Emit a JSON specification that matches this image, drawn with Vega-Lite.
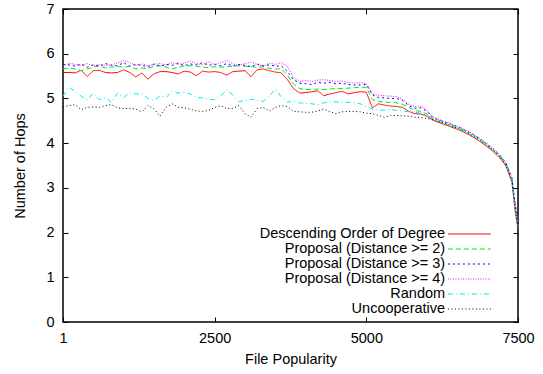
{
  "$schema": "https://vega.github.io/schema/vega-lite/v6.json",
  "width": 455,
  "height": 313,
  "autosize": {"type": "none"},
  "padding": {"left": 63, "top": 9, "right": 25, "bottom": 52},
  "config": {
    "font": "Liberation Sans",
    "view": {"stroke": "#000", "strokeWidth": 1.5},
    "axis": {
      "labelFont": "Liberation Sans",
      "labelFontSize": 14.5,
      "labelColor": "#000",
      "labelFlush": false,
      "labelOverlap": false,
      "titleFont": "Liberation Sans",
      "titleFontSize": 14.5,
      "titleFontWeight": "normal",
      "titleColor": "#000",
      "grid": false,
      "domain": false,
      "tickColor": "#000",
      "tickSize": -5,
      "tickWidth": 1,
      "format": "d"
    },
    "legend": {
      "orient": "none",
      "legendX": 374,
      "legendY": 217,
      "labelFont": "Liberation Sans",
      "labelFontSize": 14.5,
      "labelColor": "#000",
      "labelAlign": "right",
      "labelOffset": -32.3,
      "labelLimit": 400,
      "symbolOffset": 24.4,
      "symbolType": "M-3,0H3",
      "symbolSize": 205,
      "symbolStrokeWidth": 1,
      "rowPadding": 0
    }
  },
  "data": {
    "values": [
      {"x": 1, "d": 5.58, "p2": 5.66, "p3": 5.76, "p4": 5.72, "r": 5.05, "u": 4.81},
      {"x": 100, "d": 5.58, "p2": 5.68, "p3": 5.75, "p4": 5.79, "r": 5.25, "u": 4.84},
      {"x": 200, "d": 5.57, "p2": 5.66, "p3": 5.72, "p4": 5.76, "r": 5.16, "u": 4.86},
      {"x": 300, "d": 5.63, "p2": 5.62, "p3": 5.77, "p4": 5.74, "r": 5.05, "u": 4.75},
      {"x": 400, "d": 5.49, "p2": 5.66, "p3": 5.70, "p4": 5.78, "r": 4.97, "u": 4.80},
      {"x": 500, "d": 5.62, "p2": 5.70, "p3": 5.75, "p4": 5.73, "r": 5.12, "u": 4.81},
      {"x": 600, "d": 5.63, "p2": 5.73, "p3": 5.72, "p4": 5.76, "r": 4.97, "u": 4.80},
      {"x": 700, "d": 5.58, "p2": 5.68, "p3": 5.78, "p4": 5.74, "r": 5.02, "u": 4.84},
      {"x": 800, "d": 5.57, "p2": 5.70, "p3": 5.74, "p4": 5.75, "r": 4.91, "u": 4.86},
      {"x": 900, "d": 5.58, "p2": 5.72, "p3": 5.73, "p4": 5.79, "r": 5.12, "u": 4.79},
      {"x": 1000, "d": 5.64, "p2": 5.70, "p3": 5.80, "p4": 5.85, "r": 5.02, "u": 4.77},
      {"x": 1100, "d": 5.58, "p2": 5.72, "p3": 5.72, "p4": 5.80, "r": 5.13, "u": 4.78},
      {"x": 1200, "d": 5.48, "p2": 5.66, "p3": 5.76, "p4": 5.74, "r": 5.10, "u": 4.76},
      {"x": 1300, "d": 5.57, "p2": 5.68, "p3": 5.74, "p4": 5.77, "r": 5.11, "u": 4.70},
      {"x": 1400, "d": 5.43, "p2": 5.67, "p3": 5.71, "p4": 5.73, "r": 5.00, "u": 4.84},
      {"x": 1500, "d": 5.55, "p2": 5.72, "p3": 5.77, "p4": 5.76, "r": 4.96, "u": 4.77},
      {"x": 1600, "d": 5.60, "p2": 5.73, "p3": 5.72, "p4": 5.78, "r": 5.05, "u": 4.60},
      {"x": 1700, "d": 5.60, "p2": 5.70, "p3": 5.76, "p4": 5.75, "r": 5.02, "u": 4.80},
      {"x": 1800, "d": 5.58, "p2": 5.66, "p3": 5.74, "p4": 5.80, "r": 5.16, "u": 4.88},
      {"x": 1900, "d": 5.55, "p2": 5.70, "p3": 5.79, "p4": 5.76, "r": 5.12, "u": 4.80},
      {"x": 2000, "d": 5.61, "p2": 5.73, "p3": 5.73, "p4": 5.79, "r": 5.14, "u": 4.79},
      {"x": 2100, "d": 5.59, "p2": 5.73, "p3": 5.77, "p4": 5.84, "r": 5.10, "u": 4.76},
      {"x": 2200, "d": 5.51, "p2": 5.72, "p3": 5.75, "p4": 5.78, "r": 5.03, "u": 4.72},
      {"x": 2300, "d": 5.61, "p2": 5.70, "p3": 5.80, "p4": 5.75, "r": 5.01, "u": 4.71},
      {"x": 2400, "d": 5.59, "p2": 5.69, "p3": 5.74, "p4": 5.82, "r": 4.98, "u": 4.73},
      {"x": 2500, "d": 5.60, "p2": 5.71, "p3": 5.76, "p4": 5.76, "r": 4.97, "u": 4.80},
      {"x": 2600, "d": 5.58, "p2": 5.70, "p3": 5.73, "p4": 5.80, "r": 5.05, "u": 4.84},
      {"x": 2700, "d": 5.52, "p2": 5.71, "p3": 5.78, "p4": 5.85, "r": 5.19, "u": 4.77},
      {"x": 2800, "d": 5.60, "p2": 5.72, "p3": 5.72, "p4": 5.77, "r": 5.08, "u": 4.78},
      {"x": 2900, "d": 5.61, "p2": 5.73, "p3": 5.76, "p4": 5.74, "r": 4.93, "u": 4.84},
      {"x": 3000, "d": 5.62, "p2": 5.72, "p3": 5.74, "p4": 5.78, "r": 4.95, "u": 4.66},
      {"x": 3100, "d": 5.49, "p2": 5.71, "p3": 5.71, "p4": 5.81, "r": 4.98, "u": 4.58},
      {"x": 3200, "d": 5.64, "p2": 5.70, "p3": 5.77, "p4": 5.76, "r": 4.96, "u": 4.77},
      {"x": 3300, "d": 5.66, "p2": 5.71, "p3": 5.73, "p4": 5.72, "r": 4.93, "u": 4.80},
      {"x": 3400, "d": 5.62, "p2": 5.67, "p3": 5.75, "p4": 5.79, "r": 5.05, "u": 4.72},
      {"x": 3500, "d": 5.59, "p2": 5.66, "p3": 5.72, "p4": 5.76, "r": 5.21, "u": 4.80},
      {"x": 3600, "d": 5.57, "p2": 5.66, "p3": 5.73, "p4": 5.80, "r": 5.03, "u": 4.84},
      {"x": 3700, "d": 5.42, "p2": 5.52, "p3": 5.60, "p4": 5.72, "r": 4.92, "u": 4.82},
      {"x": 3800, "d": 5.22, "p2": 5.32, "p3": 5.42, "p4": 5.46, "r": 4.93, "u": 4.71},
      {"x": 3900, "d": 5.12, "p2": 5.22, "p3": 5.34, "p4": 5.38, "r": 4.90, "u": 4.70},
      {"x": 4000, "d": 5.13, "p2": 5.20, "p3": 5.33, "p4": 5.40, "r": 4.89, "u": 4.69},
      {"x": 4100, "d": 5.15, "p2": 5.20, "p3": 5.31, "p4": 5.38, "r": 4.88, "u": 4.69},
      {"x": 4200, "d": 5.17, "p2": 5.21, "p3": 5.36, "p4": 5.41, "r": 4.86, "u": 4.72},
      {"x": 4300, "d": 5.06, "p2": 5.20, "p3": 5.34, "p4": 5.42, "r": 4.90, "u": 4.76},
      {"x": 4400, "d": 5.10, "p2": 5.21, "p3": 5.36, "p4": 5.40, "r": 4.93, "u": 4.70},
      {"x": 4500, "d": 5.13, "p2": 5.22, "p3": 5.33, "p4": 5.38, "r": 4.92, "u": 4.66},
      {"x": 4600, "d": 5.16, "p2": 5.22, "p3": 5.34, "p4": 5.39, "r": 4.91, "u": 4.70},
      {"x": 4700, "d": 5.10, "p2": 5.23, "p3": 5.31, "p4": 5.36, "r": 4.91, "u": 4.71},
      {"x": 4800, "d": 5.13, "p2": 5.24, "p3": 5.30, "p4": 5.34, "r": 4.90, "u": 4.71},
      {"x": 4900, "d": 5.15, "p2": 5.25, "p3": 5.30, "p4": 5.35, "r": 4.88, "u": 4.70},
      {"x": 5000, "d": 5.14, "p2": 5.25, "p3": 5.31, "p4": 5.33, "r": 4.82, "u": 4.67},
      {"x": 5100, "d": 4.79, "p2": 4.97, "p3": 5.08, "p4": 5.10, "r": 4.76, "u": 4.66},
      {"x": 5200, "d": 4.88, "p2": 4.93, "p3": 5.02, "p4": 5.07, "r": 4.74, "u": 4.62},
      {"x": 5300, "d": 4.85, "p2": 4.92, "p3": 5.01, "p4": 5.06, "r": 4.74, "u": 4.58},
      {"x": 5400, "d": 4.83, "p2": 4.91, "p3": 5.00, "p4": 5.05, "r": 4.75, "u": 4.62},
      {"x": 5500, "d": 4.82, "p2": 4.90, "p3": 5.00, "p4": 5.04, "r": 4.73, "u": 4.62},
      {"x": 5600, "d": 4.80, "p2": 4.87, "p3": 4.95, "p4": 4.98, "r": 4.72, "u": 4.61},
      {"x": 5700, "d": 4.71, "p2": 4.80, "p3": 4.84, "p4": 4.87, "r": 4.70, "u": 4.60},
      {"x": 5800, "d": 4.66, "p2": 4.73, "p3": 4.78, "p4": 4.82, "r": 4.69, "u": 4.58},
      {"x": 5900, "d": 4.65, "p2": 4.71, "p3": 4.79, "p4": 4.83, "r": 4.67, "u": 4.57},
      {"x": 6000, "d": 4.60, "p2": 4.65, "p3": 4.71, "p4": 4.74, "r": 4.62, "u": 4.55},
      {"x": 6100, "d": 4.51, "p2": 4.53, "p3": 4.57, "p4": 4.58, "r": 4.56, "u": 4.53},
      {"x": 6200, "d": 4.46, "p2": 4.48, "p3": 4.52, "p4": 4.53, "r": 4.51, "u": 4.49},
      {"x": 6300, "d": 4.41, "p2": 4.43, "p3": 4.47, "p4": 4.48, "r": 4.46, "u": 4.44},
      {"x": 6400, "d": 4.36, "p2": 4.38, "p3": 4.42, "p4": 4.43, "r": 4.41, "u": 4.39},
      {"x": 6500, "d": 4.31, "p2": 4.33, "p3": 4.37, "p4": 4.38, "r": 4.36, "u": 4.34},
      {"x": 6600, "d": 4.25, "p2": 4.27, "p3": 4.31, "p4": 4.32, "r": 4.30, "u": 4.28},
      {"x": 6700, "d": 4.18, "p2": 4.20, "p3": 4.24, "p4": 4.25, "r": 4.23, "u": 4.21},
      {"x": 6800, "d": 4.10, "p2": 4.12, "p3": 4.16, "p4": 4.17, "r": 4.15, "u": 4.13},
      {"x": 6900, "d": 4.01, "p2": 4.03, "p3": 4.07, "p4": 4.08, "r": 4.06, "u": 4.04},
      {"x": 7000, "d": 3.91, "p2": 3.93, "p3": 3.97, "p4": 3.98, "r": 3.96, "u": 3.94},
      {"x": 7100, "d": 3.80, "p2": 3.82, "p3": 3.86, "p4": 3.87, "r": 3.85, "u": 3.83},
      {"x": 7200, "d": 3.67, "p2": 3.69, "p3": 3.73, "p4": 3.74, "r": 3.72, "u": 3.70},
      {"x": 7300, "d": 3.49, "p2": 3.51, "p3": 3.56, "p4": 3.57, "r": 3.54, "u": 3.52},
      {"x": 7400, "d": 3.13, "p2": 3.16, "p3": 3.22, "p4": 3.23, "r": 3.20, "u": 3.17},
      {"x": 7450, "d": 2.52, "p2": 2.56, "p3": 2.66, "p4": 2.68, "r": 2.63, "u": 2.58},
      {"x": 7500, "d": 2.08, "p2": 2.12, "p3": 2.18, "p4": 2.20, "r": 2.15, "u": 2.10}
    ]
  },
  "transform": [
    {"fold": ["d", "p2", "p3", "p4", "r", "u"], "as": ["series", "hops"]}
  ],
  "layer": [
    {
      "mark": {"type": "line", "strokeWidth": 1},
      "encoding": {
        "x": {
          "field": "x",
          "type": "quantitative",
          "scale": {"domain": [1, 7500], "nice": false, "zero": false},
          "axis": {
            "orient": "bottom",
            "values": [1, 2500, 5000, 7500],
            "title": "File Popularity",
            "labelPadding": 14,
            "titlePadding": 8
          }
        },
        "y": {
          "field": "hops",
          "type": "quantitative",
          "scale": {"domain": [0, 7], "nice": false},
          "axis": {
            "orient": "left",
            "values": [0, 1, 2, 3, 4, 5, 6, 7],
            "title": "Number of Hops",
            "labelPadding": 14,
            "titlePadding": 18
          }
        },
        "color": {
          "field": "series",
          "type": "nominal",
          "scale": {
            "domain": ["d", "p2", "p3", "p4", "r", "u"],
            "range": ["#ff0000", "#00ee00", "#0000ff", "#ff00ff", "#00eeee", "#000000"]
          },
          "legend": {
            "title": null,
            "labelExpr": "datum.value == 'd' ? 'Descending Order of Degree' : datum.value == 'p2' ? 'Proposal (Distance >= 2)' : datum.value == 'p3' ? 'Proposal (Distance >= 3)' : datum.value == 'p4' ? 'Proposal (Distance >= 4)' : datum.value == 'r' ? 'Random' : 'Uncooperative'"
          }
        },
        "strokeDash": {
          "field": "series",
          "type": "nominal",
          "scale": {
            "domain": ["d", "p2", "p3", "p4", "r", "u"],
            "range": [[1, 0], [5, 3], [2, 3], [1, 1.5], [5, 3, 1, 3], [1, 2.5]]
          },
          "legend": {
            "title": null,
            "labelExpr": "datum.value == 'd' ? 'Descending Order of Degree' : datum.value == 'p2' ? 'Proposal (Distance >= 2)' : datum.value == 'p3' ? 'Proposal (Distance >= 3)' : datum.value == 'p4' ? 'Proposal (Distance >= 4)' : datum.value == 'r' ? 'Random' : 'Uncooperative'"
          }
        }
      }
    },
    {
      "mark": {"type": "point", "opacity": 0},
      "encoding": {
        "x": {
          "field": "x",
          "type": "quantitative",
          "axis": {"orient": "top", "values": [1, 2500, 5000, 7500], "labels": false, "title": null}
        },
        "y": {
          "field": "hops",
          "type": "quantitative",
          "axis": {"orient": "right", "values": [0, 1, 2, 3, 4, 5, 6, 7], "labels": false, "title": null}
        }
      }
    }
  ],
  "resolve": {"axis": {"x": "independent", "y": "independent"}}
}
